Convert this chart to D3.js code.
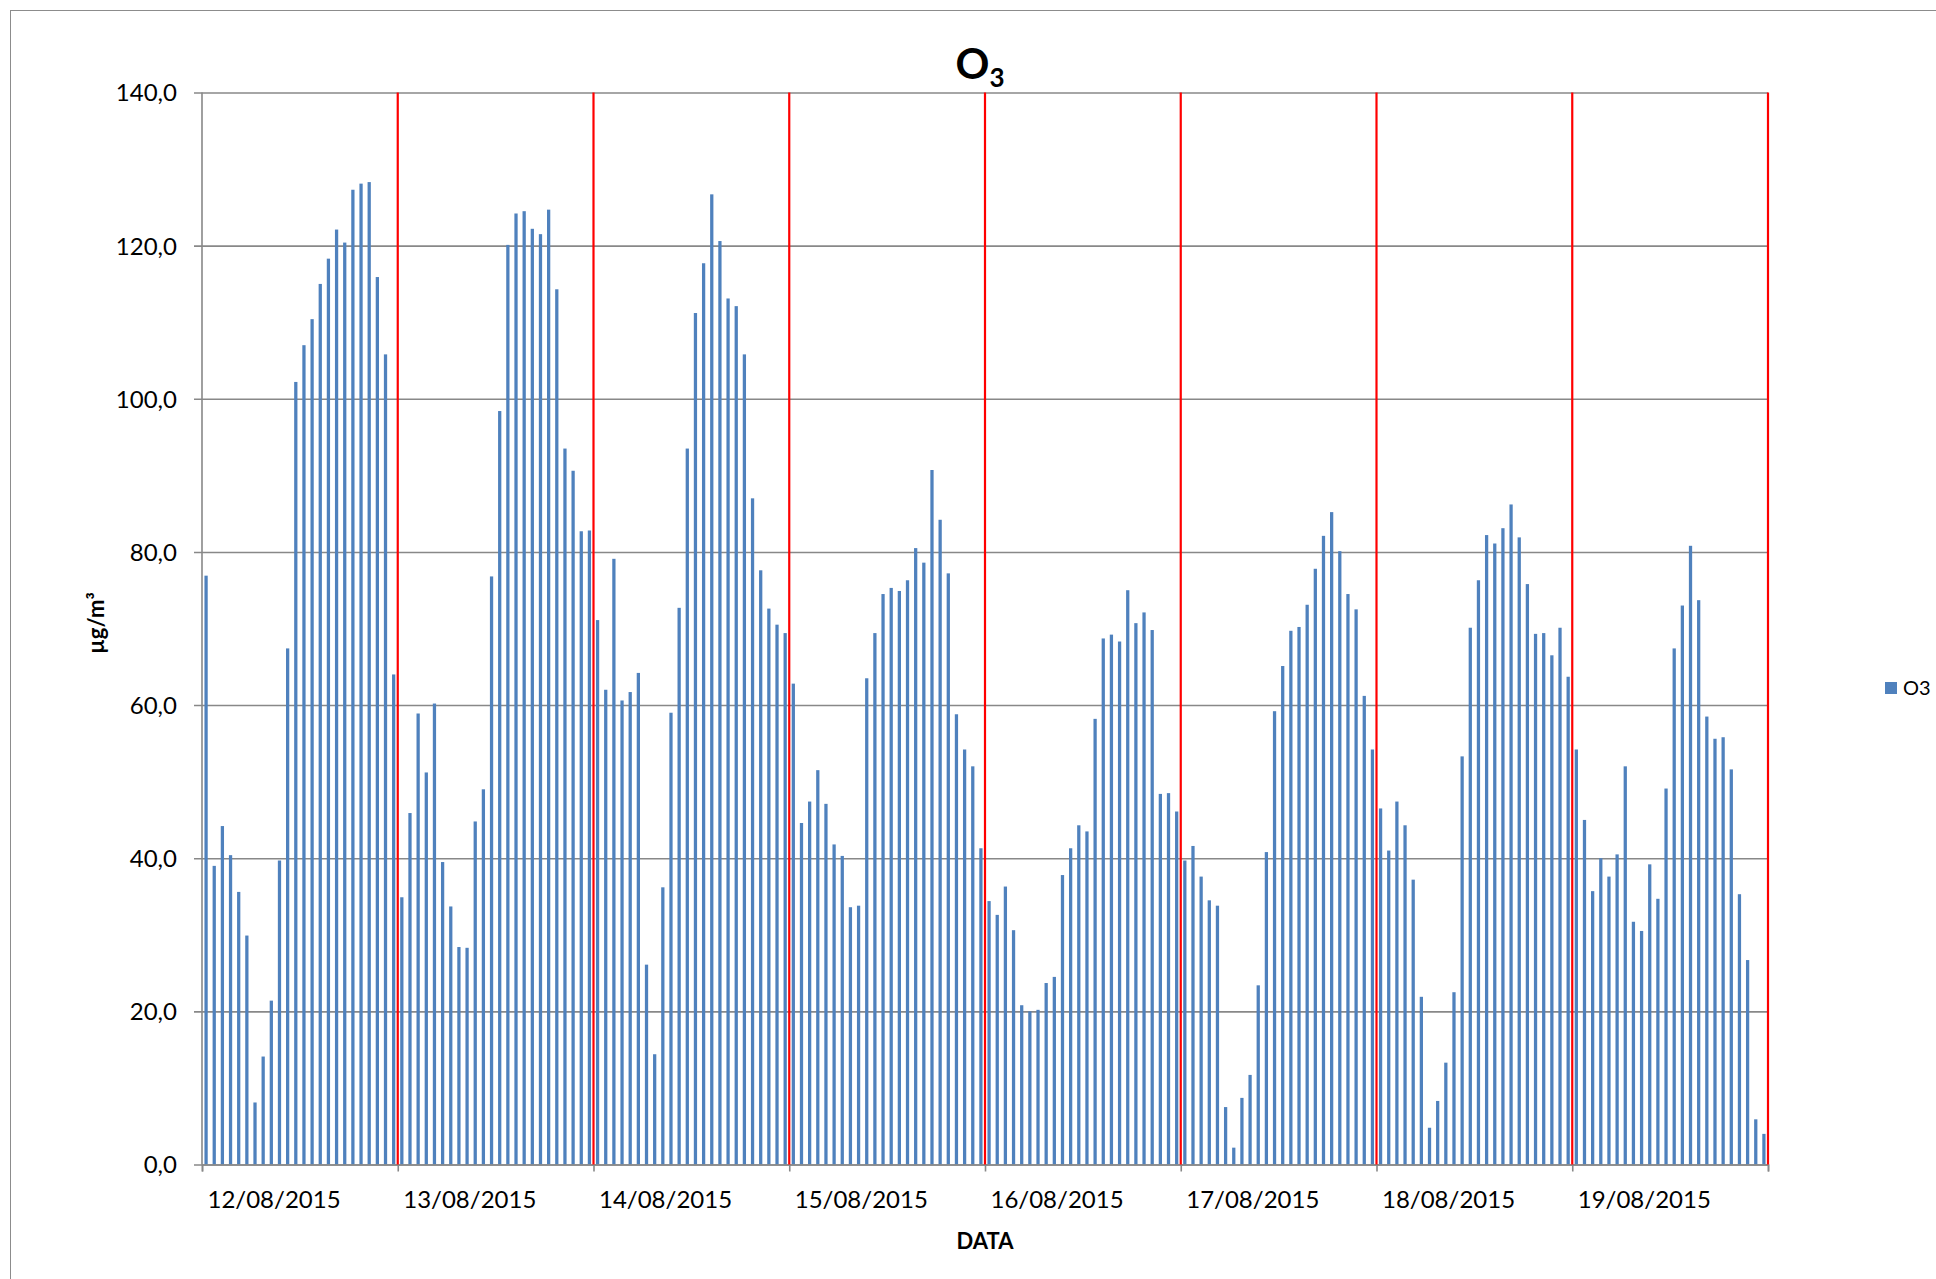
<!DOCTYPE html>
<html>
<head>
<meta charset="utf-8">
<script src="https://cdnjs.cloudflare.com/ajax/libs/d3/7.8.5/d3.min.js"></script>
<style>
  html, body { margin: 0; padding: 0; background: #fff; }
  svg { display: block; }
  text { font-family: Lato, "Open Sans", sans-serif; fill: #000; }
</style>
</head>
<body>
<svg id="chart" width="1936" height="1279"></svg>
<script>
// ---- DATA ----
const dayLabels = ["12/08/2015","13/08/2015","14/08/2015","15/08/2015","16/08/2015","17/08/2015","18/08/2015","19/08/2015"];
const d12 = [76.9,39.0,44.2,40.4,35.6,29.9,8.1,14.1,21.4,39.7,67.4,102.2,107.0,110.4,115.0,118.3,122.1,120.4,127.3,128.1,128.3,115.9,105.8,64.0];
const d13 = [34.9,45.9,58.9,51.2,60.2,39.5,33.7,28.4,28.3,44.8,49.0,76.8,98.4,120.1,124.2,124.5,122.2,121.5,124.7,114.3,93.5,90.6,82.7,82.8];
const d14 = [71.1,62.0,79.1,60.6,61.7,64.2,26.1,14.4,36.2,59.0,72.7,93.5,111.2,117.7,126.7,120.6,113.1,112.1,105.8,87.0,77.6,72.6,70.5,69.4];
const d15 = [62.8,44.6,47.4,51.5,47.1,41.8,40.3,33.6,33.8,63.5,69.4,74.5,75.3,74.9,76.3,80.5,78.6,90.7,84.2,77.2,58.8,54.2,52.0,41.3];
const d16 = [34.4,32.6,36.3,30.6,20.8,20.0,20.2,23.7,24.5,37.8,41.3,44.3,43.5,58.2,68.7,69.2,68.3,75.0,70.7,72.1,69.8,48.4,48.5,46.1];
const d17 = [39.7,41.6,37.6,34.5,33.8,7.5,2.2,8.7,11.7,23.4,40.8,59.2,65.1,69.7,70.2,73.1,77.8,82.1,85.2,80.1,74.5,72.5,61.2,54.2];
const d18 = [46.5,41.0,47.4,44.3,37.2,21.9,4.8,8.3,13.3,22.5,53.3,70.1,76.3,82.2,81.1,83.1,86.2,81.9,75.8,69.3,69.4,66.5,70.1,63.7];
const d19 = [54.2,45.0,35.7,40.0,37.6,40.5,52.0,31.7,30.5,39.2,34.7,49.1,67.4,73.0,80.8,73.7,58.5,55.6,55.8,51.6,35.3,26.7,5.9,4.0];
const seriesName = "O3";
const yTicks = [0,20,40,60,80,100,120,140];

const dayValues = [d12,d13,d14,d15,d16,d17,d18,d19];
const records = [];
dayValues.forEach((arr, di) => arr.forEach((v, h) => records.push({cat: dayLabels[di] + " " + h, day: di, hour: h, value: v})));

// ---- LAYOUT ----
const svg = d3.select("#chart");
const pL = 202, pR = 1768, pT = 92.5, pB = 1164.5;

svg.append("rect").attr("x", 10.5).attr("y", 10.5).attr("width", 1940).attr("height", 1290)
  .attr("fill", "none").attr("stroke", "#8c8c8c").attr("stroke-width", 1);

const x = d3.scaleBand().domain(records.map(d => d.cat)).range([pL, pR]).paddingInner(0.6).paddingOuter(0.3);
const y = d3.scaleLinear().domain([0, 140]).range([pB, pT]);
const dayX = d3.scaleLinear().domain([0, dayLabels.length]).range([pL, pR]);

// gridlines + y axis labels
const yAxis = d3.axisLeft(y).tickValues(yTicks).tickSize(pR - pL + 8).tickSizeOuter(0)
  .tickFormat(d => d3.format(".1f")(d).replace(".", ","));
const gy = svg.append("g").attr("transform", `translate(${pR},0)`).call(yAxis);
gy.select(".domain").remove();
gy.selectAll(".tick line").attr("stroke", "#888").attr("stroke-width", 1.6);
gy.selectAll(".tick text").attr("x", -(pR - pL) - 25).attr("dy", "0.35em")
  .style("font-size", "24px").style("font-family", "Lato, sans-serif").attr("fill", "#000");

// bars
svg.append("g").selectAll("rect").data(records).join("rect")
  .attr("x", d => x(d.cat)).attr("width", x.bandwidth())
  .attr("y", d => y(d.value)).attr("height", d => y(0) - y(d.value))
  .attr("fill", "#4f81bd");

// left axis line
svg.append("line").attr("x1", pL).attr("x2", pL).attr("y1", pT).attr("y2", pB)
  .attr("stroke", "#888").attr("stroke-width", 1.6);

// bottom axis ticks + labels
const xAxis = d3.axisBottom(dayX).tickValues(d3.range(0, dayLabels.length + 1)).tickSize(7)
  .tickFormat(d => d < dayLabels.length ? dayLabels[d] : "");
const gx = svg.append("g").attr("transform", `translate(0,${pB})`).call(xAxis);
gx.select(".domain").attr("stroke", "#888").attr("stroke-width", 1.6);
gx.selectAll(".tick line").attr("stroke", "#888").attr("stroke-width", 1.6);
gx.selectAll(".tick text").attr("text-anchor", "start").attr("x", 5).attr("y", 43).attr("dy", 0)
  .style("font-size", "24px").style("font-family", "Lato, sans-serif").attr("fill", "#000");

// red day separators
svg.append("g").selectAll("line").data(d3.range(1, dayLabels.length + 1)).join("line")
  .attr("x1", d => dayX(d)).attr("x2", d => dayX(d)).attr("y1", pT).attr("y2", pB)
  .attr("stroke", "#ff0000").attr("stroke-width", 2.2);

// title
const title = svg.append("text").attr("x", 980).attr("y", 79).attr("text-anchor", "middle")
  .style("font-weight", "bold").style("font-size", "42px");
title.append("tspan").text("O");
title.append("tspan").attr("dy", 8).style("font-size", "26px").text("3");

// axis titles
svg.append("text").attr("x", 985).attr("y", 1249).attr("text-anchor", "middle")
  .style("font-weight", "bold").style("font-size", "22px").text("DATA");
svg.append("text").attr("transform", "translate(104,623) rotate(-90)").attr("text-anchor", "middle")
  .style("font-weight", "bold").style("font-size", "22px").text("µg/m³");

// legend
const lg = svg.append("g").attr("transform", "translate(1885,682)");
lg.append("rect").attr("width", 12).attr("height", 12).attr("fill", "#4f81bd");
lg.append("text").attr("x", 18).attr("y", 13).style("font-size", "20px").text(seriesName);
</script>
</body>
</html>
